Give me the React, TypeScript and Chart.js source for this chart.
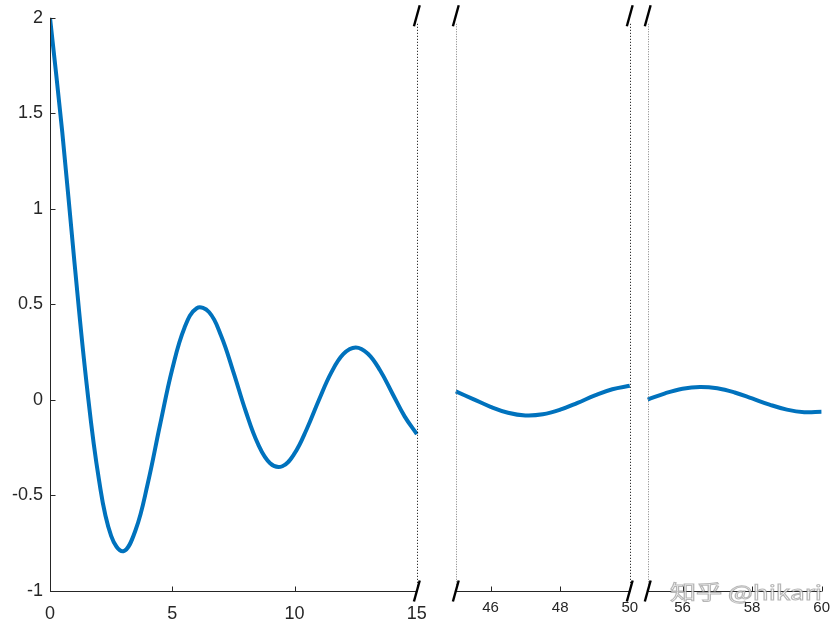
import React, { useEffect, useRef } from "react";
import { Chart, registerables } from "chart.js";

Chart.register(...registerables);

// ---- data ----
const x1 = [0, 0.5, 1, 1.5, 2, 2.5, 3, 3.5, 4, 4.5, 5, 5.5, 6, 6.5, 7, 7.5, 8, 8.5, 9, 9.5, 10, 10.5, 11, 11.5, 12, 12.5, 13, 13.5, 14, 14.5, 15];
const y1 = [2.0, 1.404, 0.72, 0.081, -0.416, -0.712, -0.792, -0.681, -0.436, -0.13, 0.162, 0.378, 0.48, 0.46, 0.335, 0.146, -0.058, -0.229, -0.331, -0.347, -0.28, -0.152, 0.001, 0.143, 0.241, 0.275, 0.242, 0.154, 0.034, -0.086, -0.179];

const x2 = [45, 45.5, 46, 46.5, 47, 47.5, 48, 48.5, 49, 49.5, 50];
const y2 = [0.0447, 0.0045, -0.036, -0.0669, -0.081, -0.0752, -0.0512, -0.0153, 0.0236, 0.056, 0.0742];

const x3 = [55, 55.5, 56, 56.5, 57, 57.5, 58, 58.5, 59, 59.5, 60];
const y3 = [0.0016, 0.0347, 0.0588, 0.0683, 0.061, 0.039, 0.0079, -0.0245, -0.0506, -0.0639, -0.0615];

const xTicks1 = [0, 5, 10, 15];
const xTicks2 = [46, 48, 50];
const xTicks3 = [56, 58, 60];
const allXTicks = [...xTicks1, ...xTicks2, ...xTicks3];

const yMin = -1;
const yMax = 2;
const yStep = 0.5;

// ---- layout of the broken axis (virtual axis units = pixels) ----
const SEGMENTS = [
  { from: 0, to: 15, start: 0, end: 367 },
  { from: 45, to: 50, start: 406, end: 580 },
  { from: 55, to: 60, start: 598, end: 772 },
];

function vx(x: number): number {
  for (const s of SEGMENTS) {
    if (x >= s.from - 1e-9 && x <= s.to + 1e-9) {
      return s.start + ((x - s.from) * (s.end - s.start)) / (s.to - s.from);
    }
  }
  return NaN;
}

const AXIS = "#262626";
const LINE = "#0072BD";
const FAMILY = '"Liberation Sans", Arial, Helvetica, sans-serif';

const breakPlugin = {
  id: "brokenAxis",
  afterDatasetsDraw(chart: any) {
    const { ctx } = chart;
    const xs = chart.scales.x;
    const ys = chart.scales.y;
    const top = ys.top;
    const bottom = ys.bottom;
    const seg = (a: number, b: number, c: number, d: number) => {
      ctx.beginPath();
      ctx.moveTo(a, b);
      ctx.lineTo(c, d);
      ctx.stroke();
    };
    ctx.save();
    ctx.strokeStyle = AXIS;
    ctx.lineWidth = 1;
    ctx.setLineDash([]);
    // y axis
    const lx = Math.round(xs.left) + 0.5;
    seg(lx, top, lx, bottom);
    ys.ticks.forEach((t: any) => {
      const py = Math.round(ys.getPixelForValue(t.value)) + 0.5;
      seg(lx, py, lx + 5, py);
    });
    // x axis segments
    const by = Math.round(bottom) + 0.5;
    SEGMENTS.forEach((s) => {
      seg(xs.getPixelForValue(s.start), by, xs.getPixelForValue(s.end), by);
    });
    xs.ticks.forEach((t: any) => {
      const px = Math.round(xs.getPixelForValue(t.value)) + 0.5;
      seg(px, by, px, by - 5);
    });
    // dotted edges
    const edges = [
      { v: SEGMENTS[0].end, dark: true },
      { v: SEGMENTS[1].start, dark: false },
      { v: SEGMENTS[1].end, dark: true },
      { v: SEGMENTS[2].start, dark: false },
    ];
    edges.forEach((e) => {
      const px = Math.round(xs.getPixelForValue(e.v)) + 0.5;
      ctx.strokeStyle = e.dark ? "#000" : "#808080";
      ctx.setLineDash(e.dark ? [1, 2] : [1, 1.5]);
      seg(px, top + 6, px, bottom);
    });
    ctx.setLineDash([]);
    // slashes
    ctx.strokeStyle = "#000";
    ctx.lineWidth = 2.4;
    ctx.lineCap = "butt";
    edges.forEach((e) => {
      const px = xs.getPixelForValue(e.v);
      [top - 2, bottom].forEach((cy) => {
        seg(px - 2.9, cy + 10.5, px + 2.9, cy - 10.5);
      });
    });
    // watermark
    ctx.font = '20px "Noto Sans CJK SC", "Noto Sans", sans-serif';
    ctx.textBaseline = "alphabetic";
    ctx.textAlign = "left";
    const text = "知乎 @hikari";
    const w = ctx.measureText(text).width;
    ctx.translate(670, 600);
    ctx.scale(152 / w, 1);
    ctx.lineWidth = 1;
    ctx.strokeStyle = "rgba(110,110,110,0.5)";
    ctx.fillStyle = "rgba(255,255,255,0.8)";
    ctx.fillText(text, 0, 0);
    ctx.strokeText(text, 0, 0);
    ctx.restore();
  },
};

function makeDataset(xs: number[], ys: number[]) {
  return {
    data: xs.map((x, i) => ({ x: vx(x), y: ys[i] })),
    borderColor: LINE,
    borderWidth: 4,
    pointRadius: 0,
    tension: 0.4,
    fill: false,
  };
}

export default function App() {
  const ref = useRef<HTMLCanvasElement | null>(null);
  useEffect(() => {
    if (!ref.current) return;
    const chart = new Chart(ref.current, {
      type: "line",
      data: {
        datasets: [makeDataset(x1, y1), makeDataset(x2, y2), makeDataset(x3, y3)] as any,
      },
      options: {
        animation: false,
        responsive: true,
        maintainAspectRatio: false,
        layout: { padding: { top: 14, right: 18, left: 0, bottom: 0 } },
        plugins: { legend: { display: false }, tooltip: { enabled: false } },
        elements: { point: { radius: 0 } },
        scales: {
          x: {
            type: "linear",
            min: SEGMENTS[0].start,
            max: SEGMENTS[2].end,
            grid: { display: false, drawTicks: false },
            border: { display: false },
            afterBuildTicks: (s: any) => {
              s.ticks = allXTicks.map((t) => ({ value: vx(t) }));
            },
            afterFit: (s: any) => {
              s.height = 39;
            },
            ticks: {
              autoSkip: false,
              maxRotation: 0,
              minRotation: 0,
              padding: 10,
              color: AXIS,
              callback: (_v: any, i: number) => String(allXTicks[i]),
              font: (c: any) =>
                c.index < xTicks1.length
                  ? { family: FAMILY, size: 18, lineHeight: 1.41 }
                  : { family: FAMILY, size: 15, lineHeight: 0.9 },
            },
          },
          y: {
            min: yMin,
            max: yMax,
            grid: { display: false, drawTicks: false },
            border: { display: false },
            afterFit: (s: any) => {
              s.width = 50;
            },
            ticks: {
              stepSize: yStep,
              padding: 7,
              color: AXIS,
              font: { family: FAMILY, size: 18 },
              callback: (v: any) => String(v),
            },
          },
        },
      } as any,
      plugins: [breakPlugin],
    });
    return () => chart.destroy();
  }, []);
  return (
    <div style={{ position: "fixed", left: 0, top: 0, width: 840, height: 630, background: "#fff" }}>
      <canvas ref={ref} />
    </div>
  );
}
